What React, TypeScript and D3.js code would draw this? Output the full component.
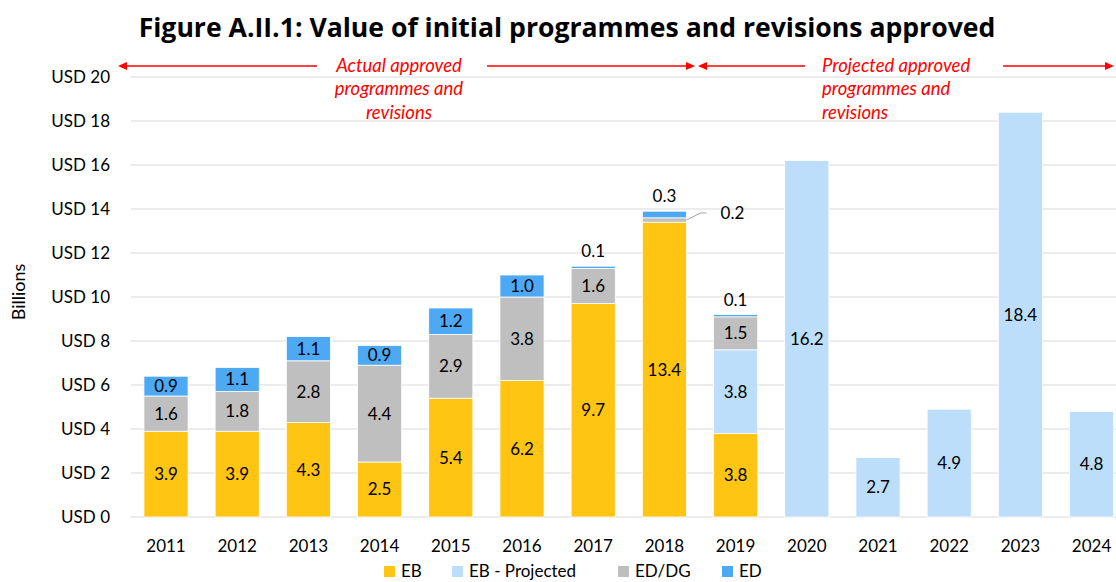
import React from "react";
import * as d3 from "d3";

const years = ["2011","2012","2013","2014","2015","2016","2017","2018","2019","2020","2021","2022","2023","2024"];
const eb = [3.9, 3.9, 4.3, 2.5, 5.4, 6.2, 9.7, 13.4, 3.8, 0, 0, 0, 0, 0];
const ebProjected = [0, 0, 0, 0, 0, 0, 0, 0, 3.8, 16.2, 2.7, 4.9, 18.4, 4.8];
const edDg = [1.6, 1.8, 2.8, 4.4, 2.9, 3.8, 1.6, 0.2, 1.5, 0, 0, 0, 0, 0];
const ed = [0.9, 1.1, 1.1, 0.9, 1.2, 1.0, 0.1, 0.3, 0.1, 0, 0, 0, 0, 0];
const yTicks = [0, 2, 4, 6, 8, 10, 12, 14, 16, 18, 20];
const seriesNames = ["EB", "EB - Projected", "ED/DG", "ED"];
const seriesKeys = ["eb", "ebp", "eddg", "ed"];
const colors = ["#FFC512", "#BDDEFB", "#BFBFBF", "#4EA9F5"];

const W = 1116, H = 582;
const FONT = "Lato, 'Open Sans', sans-serif";

export default function App() {
  const rows = years.map((y, i) => ({ year: y, eb: eb[i], ebp: ebProjected[i], eddg: edDg[i], ed: ed[i] }));
  const stack = d3.stack<any>().keys(seriesKeys)(rows);
  const x = d3.scaleBand().domain(years).range([130.4, 1127.2]).paddingInner(0.38).paddingOuter(0.19);
  const y = d3.scaleLinear().domain([0, 20]).range([517, 77]);
  const bw = x.bandwidth();
  const red = "#FF0000";

  const labels: any[] = [];
  stack.forEach((s, si) => {
    s.forEach((d, i) => {
      const v = d[1] - d[0];
      if (v <= 0) return;
      const cx = (x(years[i]) as number) + bw / 2;
      const txt = v.toFixed(1);
      if (v < 0.35) {
        if (seriesKeys[si] === "ed") {
          labels.push({ x: cx, y: y(d[1]) - 15, t: txt });
        } else {
          const ly = y((d[0] + d[1]) / 2);
          labels.push({ x: cx + bw / 2 + 46, y: ly - 7, t: txt, leader: [cx + bw / 2, ly, cx + bw / 2 + 14, ly - 7, cx + bw / 2 + 20, ly - 7] });
        }
      } else {
        labels.push({ x: cx, y: y((d[0] + d[1]) / 2), t: txt });
      }
    });
  });

  const legendItems = [
    { x: 384, t: seriesNames[0], c: colors[0] },
    { x: 452, t: seriesNames[1], c: colors[1] },
    { x: 618, t: seriesNames[2], c: colors[2] },
    { x: 722, t: seriesNames[3], c: colors[3] },
  ];

  const arrowL = (tipX: number, yy: number) => `M${tipX},${yy} L${tipX + 9},${yy - 4} L${tipX + 9},${yy + 4} Z`;
  const arrowR = (tipX: number, yy: number) => `M${tipX},${yy} L${tipX - 9},${yy - 4} L${tipX - 9},${yy + 4} Z`;
  const ay = 66;

  return (
    <svg width={W} height={H} style={{ position: "absolute", left: 0, top: 0, background: "#fff" }} fontFamily={FONT}>
      <text x={567} y={37} textAnchor="middle" fontSize={26.6} fontWeight="bold" fill="#000" fontFamily="'Open Sans', sans-serif">
        Figure A.II.1: Value of initial programmes and revisions approved
      </text>
      {yTicks.map((t) => (
        <g key={t}>
          <line x1={131} x2={1116} y1={y(t)} y2={y(t)} stroke="#D9D9D9" strokeWidth={1.2} />
          <text x={110} y={y(t)} dy="0.35em" textAnchor="end" fontSize={17} fill="#000">USD {t}</text>
        </g>
      ))}
      <text transform={`translate(19,292) rotate(-90)`} textAnchor="middle" dy="0.35em" fontSize={18} fill="#000">Billions</text>
      {stack.map((s, si) => (
        <g key={si} fill={colors[si]}>
          {s.map((d, i) => d[1] - d[0] > 0 ? (
            <rect key={i} x={x(years[i])} y={y(d[1])} width={bw} height={y(d[0]) - y(d[1])} stroke="#fff" strokeWidth={0.8} />
          ) : null)}
        </g>
      ))}
      {labels.map((l, i) => (
        <g key={i}>
          {l.leader && <polyline points={l.leader.join(",")} fill="none" stroke="#A6A6A6" strokeWidth={1} />}
          <text x={l.x} y={l.y} dy="0.35em" textAnchor="middle" fontSize={17} fill="#000">{l.t}</text>
        </g>
      ))}
      {years.map((yr) => (
        <text key={yr} x={(x(yr) as number) + bw / 2} y={546} dy="0.35em" textAnchor="middle" fontSize={17} fill="#000">{yr}</text>
      ))}
      {legendItems.map((li) => (
        <g key={li.t}>
          <rect x={li.x} y={566} width={11} height={11} fill={li.c} />
          <text x={li.x + 17} y={571.5} dy="0.35em" fontSize={17} fill="#000">{li.t}</text>
        </g>
      ))}
      <g stroke={red} strokeWidth={1.3}>
        <line x1={125} x2={317} y1={ay} y2={ay} />
        <line x1={487} x2={686} y1={ay} y2={ay} />
        <line x1={707} x2={805} y1={ay} y2={ay} />
        <line x1={1003} x2={1106} y1={ay} y2={ay} />
      </g>
      <g fill={red}>
        <path d={arrowL(118, ay)} />
        <path d={arrowR(695, ay)} />
        <path d={arrowL(698, ay)} />
        <path d={arrowR(1114, ay)} />
      </g>
      <g fill={red} fontSize={18.5} fontStyle="italic">
        <text x={399} y={66} dy="0.35em" textAnchor="middle">Actual approved</text>
        <text x={399} y={89} dy="0.35em" textAnchor="middle">programmes and</text>
        <text x={399} y={113} dy="0.35em" textAnchor="middle">revisions</text>
        <text x={822} y={66} dy="0.35em">Projected approved</text>
        <text x={822} y={89} dy="0.35em">programmes and</text>
        <text x={822} y={113} dy="0.35em">revisions</text>
      </g>
    </svg>
  );
}
